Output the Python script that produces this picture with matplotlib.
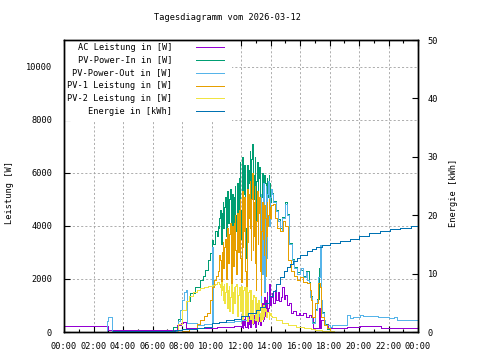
import numpy as np
import matplotlib
matplotlib.use("Agg")
import matplotlib.pyplot as plt
from matplotlib.lines import Line2D
from matplotlib.patches import Rectangle

# ---------------- data ----------------
title = "Tagesdiagramm vom 2026-03-12"
series_labels = ["AC Leistung in [W]", "PV-Power-In in [W]", "PV-Power-Out in [W]",
                 "PV-1 Leistung in [W]", "PV-2 Leistung in [W]", "Energie in [kWh]"]
colors = ["#9400d3", "#009e73", "#56b4e9", "#e69f00", "#f0e442", "#0072b2"]
xtick_labels = ["00:00", "02:00", "04:00", "06:00", "08:00", "10:00", "12:00",
                "14:00", "16:00", "18:00", "20:00", "22:00", "00:00"]

# midday sample times (2.5 min steps, 10:30 .. 14:00)
t_noon = [round(10.5 + i * 2.5 / 60, 4) for i in range(85)]

# AC Leistung
ac_t_am = [0, 2.95, 3.0, 7.6, 7.65, 7.95, 8.1, 8.3, 10.4, 11.5]
ac_am = [220, 220, 60, 60, 260, 340, 390, 150, 200, 220]
ac_noon = [200, 300, 450, 150, 250, 500, 650, 200, 200, 350,
           500, 150, 300, 600, 700, 200, 250, 450, 600, 300,
           350, 650, 800, 200, 250, 500, 900, 300, 400, 800,
           700, 250, 300, 900, 1100, 400, 500, 1000, 1300, 600,
           700, 1200, 1500, 800, 900, 1600, 1800, 1000, 1300]
ac_t_pm = [14.1, 14.2, 14.3, 14.4, 14.5, 14.6, 14.7, 14.8, 14.9, 15.0, 15.1, 15.25,
           15.4, 15.55, 15.7, 15.9, 16.0, 16.2, 16.4, 16.6, 16.75, 16.85, 17.2, 17.3,
           17.35, 17.45, 17.7, 17.9, 18.0, 19.0, 19.2, 19.7, 20.1, 21.4, 21.5, 24.0]
ac_pm = [1460, 1100, 1600, 1200, 1500, 1150, 1300, 1700, 1250, 1400, 1000, 1100,
         700, 800, 650, 700, 640, 700, 560, 640, 560, 150, 150, 900,
         150, 450, 300, 150, 140, 140, 200, 200, 220, 220, 160, 160]

# PV-Power-In
in_t_am = [0, 7.2, 7.4, 7.7, 8.0, 8.25, 8.55, 8.9, 9.2, 9.4, 9.56, 9.75, 9.9,
           10.0, 10.1, 10.24, 10.35, 10.42]
in_am = [0, 0, 200, 500, 820, 1150, 1460, 1700, 1950, 2100, 2320, 2700, 2960,
         3450, 3300, 3820, 3600, 4000]
in_noon = [3900, 4300, 4600, 3700, 3300, 4500, 4900, 3900, 4200, 4700,
           5100, 4400, 3600, 4800, 5300, 4100, 4500, 5000, 5400, 4200,
           3000, 4600, 5200, 3900, 4700, 5100, 5500, 4400, 3800, 5300,
           5600, 4500, 4900, 5800, 6400, 4600, 3500, 5900, 6600, 4300,
           5200, 6300, 6000, 3900, 2800, 5400, 6300, 4600, 5600, 6100,
           6800, 5000, 4200, 6500, 7100, 4400, 5000, 5900, 6600, 4200,
           3000, 5700, 6400, 4300, 5800, 6000, 6200, 3900, 2500, 5100,
           6000, 5500, 4800, 4600, 5900, 5600, 3500, 4900, 5800, 5100,
           5400, 5900, 5600, 4900, 5300]
in_t_pm = [14.1, 14.2, 14.35, 14.5, 14.65, 14.8, 14.95, 15.1, 15.25, 15.45, 15.6,
           15.8, 16.0, 16.2, 16.4, 16.6, 16.7, 16.8, 17.0, 17.15, 17.3, 17.45,
           17.6, 17.8, 18.0]
in_pm = [5250, 4950, 4600, 4250, 3900, 4350, 4900, 4450, 3350, 2750, 2450,
         2250, 2350, 2100, 2300, 1880, 1350, 380, 850, 1250, 2400, 750,
         300, 100, 0]

# PV-Power-Out
out_t_am = [0, 2.9, 2.97, 3.27, 7.5, 7.7, 7.85, 8.0, 8.15, 8.3, 8.35, 9.0, 9.5,
            9.95, 10.0, 10.1, 10.5, 11.0, 11.5, 12.0, 12.5, 13.0, 13.25]
out_am = [0, 420, 560, 30, 30, 400, 820, 1200, 1500, 1600, 340, 270, 290,
          320, 3200, 350, 370, 390, 420, 450, 500, 600, 700]
out_noon = [5200, 3800, 2200, 4600, 5600, 2500, 1500, 4800, 5500, 3000,
            2800, 5200, 5700, 4400, 4000, 5100, 5400]
out_t_pm = [14.1, 14.2, 14.35, 14.5, 14.65, 14.8, 14.95, 15.1, 15.25, 15.45,
            15.6, 15.8, 16.0, 16.1, 16.2, 16.4, 16.5, 16.6, 16.7, 16.8, 16.9,
            17.0, 17.15, 17.25, 17.35, 17.4, 17.5, 17.6, 17.7, 18.0, 18.2,
            19.1, 19.2, 19.4, 19.6, 20.1, 20.3, 21.3, 22.0, 22.4, 22.6, 24.0]
out_pm = [5200, 4900, 4570, 4200, 3820, 4300, 4830, 4400, 3330, 2700,
          2400, 2200, 2320, 2400, 2060, 2250, 1950, 1830, 1310, 340, 340,
          820, 1200, 2060, 3260, 1200, 700, 450, 260, 190, 260,
          260, 640, 520, 560, 640, 600, 560, 520, 560, 450, 410]

# PV-1 Leistung
pv1_t_am = [7.6, 8.0, 8.5, 9.0, 9.25, 9.5, 9.67, 9.9, 10.0, 10.15, 10.3, 10.42]
pv1_am = [0, 30, 100, 300, 450, 600, 700, 1200, 1690, 1950, 2100, 2300]
pv1_noon = [2300, 2900, 2700, 2100, 1900, 3000, 3400, 2400, 2600, 3200,
            3500, 2800, 2000, 3300, 3900, 2600, 2900, 3700, 4100, 3000,
            1700, 3200, 4000, 2500, 3300, 4100, 4400, 3100, 2200, 4200,
            4500, 3000, 3600, 4600, 5000, 2800, 1900, 4400, 5300, 3200,
            3800, 5100, 5000, 2300, 1500, 4000, 5400, 3400, 4300, 5200,
            5700, 3900, 2700, 5000, 6000, 3100, 3600, 4900, 5500, 2600,
            1600, 4200, 5300, 3300, 4500, 4900, 5100, 2300, 1400, 3800,
            4900, 4200, 3500, 2900, 4800, 4300, 2100, 3600, 4900, 4000,
            4400, 5000, 4700, 4300, 4800]
pv1_t_pm = [14.15, 14.3, 14.45, 14.65, 14.85, 15.0, 15.2, 15.4, 15.6, 15.8, 16.0,
            16.2, 16.45, 16.65, 16.75, 16.8, 16.95, 17.0, 17.2, 17.35, 17.45,
            17.6, 17.8, 18.0, 18.2]
pv1_pm = [4830, 4300, 3930, 3800, 4190, 4000, 2700, 2300, 2100, 1950, 2060,
          1900, 1830, 1570, 1200, 560, 560, 1090, 1830, 1700, 560,
          260, 150, 50, 0]

# PV-2 Leistung
pv2_t_am = [7.6, 7.75, 8.0, 8.3, 8.5, 8.75, 9.0, 9.25, 9.5, 9.75, 10.0, 10.25, 10.4]
pv2_am = [0, 300, 820, 1150, 1350, 1500, 1600, 1650, 1700, 1750, 1780, 1820, 1870]
pv2_noon = [1850, 1800, 1700, 1400, 1900, 1600, 1200, 1750, 1800, 1100,
            1500, 1700, 1850, 1300, 900, 1600, 1750, 800, 1300, 1650,
            1800, 1000, 700, 1500, 1700, 1100, 1400, 1750, 1800, 900,
            600, 1400, 1650, 1700, 1200, 800, 1750, 1500, 500, 1200,
            1600, 1700, 1000, 600, 1700, 1300, 400, 1100, 1500, 1600,
            900, 500, 1600, 1200, 350, 900, 1400, 1300, 800, 450,
            1300, 1100, 400, 900, 1200, 1000, 700, 400, 1100, 900,
            500, 800, 1000, 600, 900, 800, 850, 550, 700, 750,
            750, 500, 650, 700, 600]
pv2_t_pm = [14.1, 14.35, 14.75, 15.2, 15.75, 16.3, 16.75, 17.0, 17.5, 18.3]
pv2_pm = [560, 450, 340, 260, 190, 150, 100, 60, 30, 0]

# Energie in kWh
en_t = [0, 3.3, 6.5, 7.5, 8.0, 9.0, 9.5, 10.0, 10.5, 11.0, 11.5, 12.0, 12.5,
        13.0, 13.3, 13.6, 13.9, 14.2, 14.4, 14.64, 14.9, 15.1, 15.3, 15.55,
        15.8, 16.0, 16.45, 16.8, 17.1, 17.5, 18.0, 18.7, 19.4, 20.0, 20.7,
        21.4, 22.1, 22.8, 23.5, 24.0]
en_kwh = [0, 0.1, 0.15, 0.3, 0.45, 0.7, 0.9, 1.5, 1.7, 2.0, 2.3, 2.8, 3.2,
          3.7, 4.3, 5.0, 6.1, 7.1, 8.2, 9.4, 10.4, 11.1, 11.6, 12.2,
          12.7, 13.1, 13.9, 14.2, 14.5, 14.9, 15.2, 15.6, 16.0, 16.5, 16.9,
          17.3, 17.6, 17.8, 18.1, 18.3]

# ---------------- figure ----------------
W, H = 480, 360
fig = plt.figure(figsize=(4.8, 3.6), dpi=100)
L, R, T, B = 64, 418, 40, 332
ax = fig.add_axes([L / W, 1 - B / H, (R - L) / W, (B - T) / H])
ax2 = ax.twinx()

FONT = "DejaVu Sans Mono"
FS = 6.2
LW = 0.55

def step(a, t, v, c):
    n = min(len(t), len(v))
    a.plot(t[:n], v[:n], drawstyle="steps-post", color=c, lw=LW,
           antialiased=False, zorder=2)

step(ax, ac_t_am + t_noon[36:] + ac_t_pm, ac_am + ac_noon + ac_pm, colors[0])
step(ax, in_t_am + t_noon + in_t_pm, in_am + in_noon + in_pm, colors[1])
step(ax, out_t_am + t_noon[68:] + out_t_pm, out_am + out_noon + out_pm, colors[2])
step(ax, pv1_t_am + t_noon + pv1_t_pm, pv1_am + pv1_noon + pv1_pm, colors[3])
step(ax, pv2_t_am + t_noon + pv2_t_pm, pv2_am + pv2_noon + pv2_pm, colors[4])
step(ax2, en_t, en_kwh, colors[5])

ax.set_xlim(0, 24)
ax.set_ylim(0, 11000)
ax2.set_ylim(0, 50)

ax.set_xticks(range(0, 25, 2))
ax.set_xticks(range(1, 25, 2), minor=True)
ax.set_xticklabels(xtick_labels, fontfamily=FONT, fontsize=FS)
ax.set_yticks(range(0, 10001, 2000))
ax.set_yticklabels([str(v) for v in range(0, 10001, 2000)], fontfamily=FONT, fontsize=FS)
ax2.set_yticks(range(0, 51, 10))
ax2.set_yticklabels([str(v) for v in range(0, 51, 10)], fontfamily=FONT, fontsize=FS)

ax.tick_params(axis="x", which="major", direction="in", length=4, width=0.8,
               top=True, pad=7)
ax.tick_params(axis="x", which="minor", direction="in", length=2, width=0.8, top=True)
ax.tick_params(axis="y", direction="in", length=4, width=0.8, pad=8.5, right=False)
ax2.tick_params(axis="y", direction="in", length=4, width=0.8, pad=7)

ax.grid(True, which="major", color="#a0a0a0", linestyle=(0, (2.5, 2.5)), lw=0.6)
ax.set_axisbelow(True)
for a in (ax, ax2):
    for s in a.spines.values():
        s.set_linewidth(1.0)
        s.set_color("black")

# opaque key box
ax.add_patch(Rectangle((0, (B - 121) / (B - T)), (232 - L) / (R - L), 1,
                       transform=ax.transAxes, facecolor="white",
                       edgecolor="none", zorder=1))

fig.text(227 / W, 1 - 18 / H, title, ha="center", va="center",
         fontfamily=FONT, fontsize=FS)
fig.text(10 / W, 1 - 193 / H, "Leistung [W]", rotation=90, ha="center",
         va="center", fontfamily=FONT, fontsize=FS)
fig.text(453 / W, 1 - 193 / H, "Energie [kWh]", rotation=90, ha="center",
         va="center", fontfamily=FONT, fontsize=FS)

# key entries
row_y = [47.3, 60, 72.7, 85.5, 98.3, 111]
for lab, c, yy in zip(series_labels, colors, row_y):
    fig.text(172 / W, 1 - yy / H, lab, ha="right", va="center",
             fontfamily=FONT, fontsize=FS)
    fig.add_artist(Line2D([196 / W, 224 / W], [1 - yy / H, 1 - yy / H],
                          color=c, lw=LW, antialiased=False))

fig.savefig("out.png", dpi=100)
